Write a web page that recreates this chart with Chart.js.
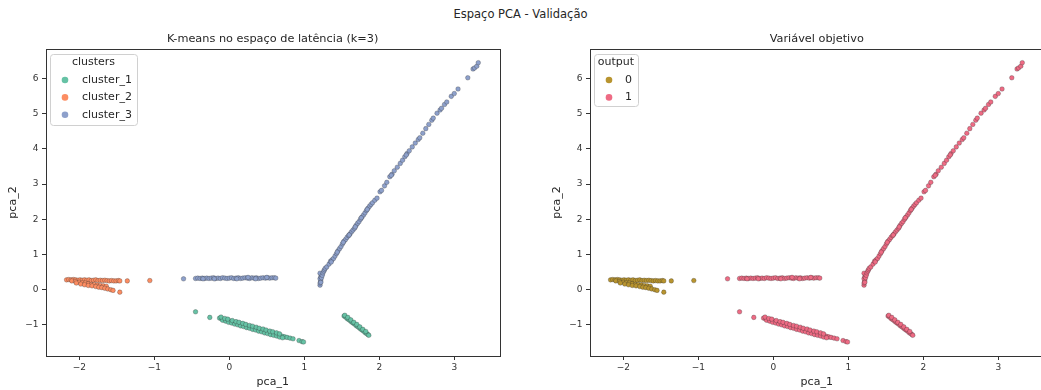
<!DOCTYPE html>
<html>
<head>
<meta charset="utf-8">
<script src="https://cdn.jsdelivr.net/npm/chart.js@4"></script>
<style>
  html, body { margin: 0; padding: 0; background: #fff; }
  body { width: 1041px; height: 390px; overflow: hidden; position: relative; font-family: 'DejaVu Sans', sans-serif; }
  #suptitle { position: absolute; top: 7px; left: 0; width: 1041px; text-align: center; font-size: 11.5px; color: #262626; }
  .wrap { position: absolute; top: 0; width: 520px; height: 390px; }
</style>
</head>
<body>
<div id="suptitle">Espaço PCA - Validação</div>
<div class="wrap" style="left:0"><canvas id="leftChart" width="520" height="390"></canvas></div>
<div class="wrap" style="left:544px"><canvas id="rightChart" width="520" height="390"></canvas></div>
<script>
// ticks
const xTicks = [-2, -1, 0, 1, 2, 3];
const yTicks = [-1, 0, 1, 2, 3, 4, 5, 6];

// cluster_1: long band below the flat line, plus the short steep segment
const cluster1Band = [
  [-0.45,-0.64],[-0.26,-0.80],
  [-0.13,-0.82],[-0.10,-0.84],[-0.07,-0.86],[-0.04,-0.875],[-0.01,-0.89],[0.02,-0.91],[0.05,-0.93],[0.08,-0.95],
  [0.11,-0.97],[0.14,-0.985],[0.17,-1.00],[0.20,-1.02],[0.23,-1.04],[0.26,-1.06],[0.29,-1.08],[0.32,-1.10],
  [0.35,-1.115],[0.38,-1.13],[0.41,-1.15],[0.44,-1.17],[0.47,-1.19],[0.50,-1.21],[0.53,-1.225],[0.56,-1.245],
  [0.59,-1.26],[0.62,-1.28],[0.65,-1.30],[0.68,-1.32],[0.71,-1.34],[0.74,-1.355],[0.77,-1.37],
  [-0.09,-0.88],[-0.05,-0.905],[-0.01,-0.94],[0.03,-0.96],[0.07,-0.99],[0.11,-1.01],[0.15,-1.04],[0.19,-1.06],
  [0.23,-1.09],[0.27,-1.11],[0.31,-1.14],[0.35,-1.16],[0.39,-1.19],[0.43,-1.21],[0.47,-1.24],[0.51,-1.26],
  [0.55,-1.29],[0.59,-1.31],[0.63,-1.33],[0.67,-1.36],[0.71,-1.38],
  [-0.11,-0.79],[-0.06,-0.83],[-0.02,-0.85],[0.04,-0.89],[0.09,-0.92],[0.13,-0.94],[0.18,-0.97],[0.22,-1.00],
  [0.27,-1.03],[0.31,-1.05],[0.36,-1.08],[0.40,-1.11],[0.45,-1.13],[0.49,-1.16],[0.54,-1.19],[0.58,-1.21],
  [0.63,-1.24],[0.67,-1.27],
  [0.81,-1.39],[0.85,-1.41],[0.93,-1.46],[0.97,-1.49],[0.99,-1.50]
];
const cluster1Steep = [
  [1.53,-0.76],[1.55,-0.79],[1.57,-0.83],[1.59,-0.86],[1.61,-0.89],[1.63,-0.93],[1.65,-0.96],[1.67,-0.99],
  [1.69,-1.03],[1.71,-1.06],[1.73,-1.09],[1.75,-1.13],[1.77,-1.16],[1.79,-1.19],[1.81,-1.23],[1.83,-1.26],
  [1.85,-1.29],[1.86,-1.31],
  [1.54,-0.74],[1.58,-0.80],[1.62,-0.87],[1.66,-0.94],[1.70,-1.00],[1.74,-1.07],[1.78,-1.14],[1.82,-1.20]
];

// cluster_2: the left group (output 0)
const cluster2Pts = [
  [-2.17,0.27],[-2.14,0.28],[-2.11,0.27],[-2.08,0.28],[-2.05,0.27],[-2.02,0.26],[-1.99,0.27],[-1.96,0.26],
  [-1.93,0.27],[-1.90,0.26],[-1.87,0.27],[-1.84,0.25],[-1.81,0.26],[-1.78,0.27],[-1.75,0.25],[-1.72,0.26],
  [-1.69,0.25],[-1.66,0.26],[-1.63,0.25],[-1.60,0.24],[-1.57,0.25],[-1.54,0.24],[-1.51,0.24],[-1.48,0.25],
  [-1.46,0.24],[-1.36,0.24],[-1.06,0.25],
  [-2.10,0.24],[-2.05,0.22],[-2.00,0.20],[-1.96,0.19],[-1.92,0.18],[-1.88,0.16],[-1.84,0.14],[-1.80,0.14],
  [-1.76,0.12],[-1.72,0.11],[-1.68,0.10],[-1.64,0.09],
  [-2.04,0.18],[-1.98,0.15],[-1.93,0.13],[-1.88,0.11],[-1.83,0.10],[-1.78,0.08],[-1.74,0.06],[-1.70,0.05],
  [-1.66,0.03],[-1.62,0.01],[-1.58,-0.01],[-1.55,-0.03],[-1.46,-0.08]
];

// cluster_3: flat line near y=0.3 and the long diagonal
const cluster3Flat = [
  [-0.61,0.30],[-0.45,0.31],[-0.42,0.32],[-0.39,0.31],[-0.36,0.32],[-0.33,0.31],[-0.30,0.32],[-0.27,0.31],
  [-0.24,0.32],[-0.21,0.33],[-0.18,0.31],[-0.15,0.32],[-0.12,0.31],[-0.09,0.33],[-0.06,0.32],[-0.03,0.31],
  [0.00,0.32],[0.03,0.33],[0.06,0.31],[0.09,0.32],[0.12,0.33],[0.15,0.31],[0.18,0.32],[0.21,0.33],
  [0.24,0.32],[0.27,0.31],[0.30,0.33],[0.33,0.32],[0.36,0.33],[0.39,0.31],[0.42,0.32],[0.45,0.33],
  [0.48,0.32],[0.51,0.33],[0.54,0.32],[0.57,0.33],[0.60,0.33],[0.62,0.32],
  [-0.20,0.30],[0.10,0.30],[0.35,0.30],[0.50,0.34],[-0.35,0.30],[0.25,0.34]
];
const cluster3Diag = [
  [1.21,0.12],[1.21,0.18],[1.22,0.24],[1.21,0.30],[1.22,0.36],[1.23,0.42],[1.21,0.46],[1.22,0.20],[1.23,0.33],
  [1.24,0.40],[1.25,0.47],[1.26,0.52],[1.27,0.56],[1.28,0.60],[1.30,0.64],[1.33,0.72],[1.35,0.80],[1.37,0.84],
  [1.39,0.88],[1.41,0.95],[1.43,1.02],[1.45,1.10],[1.47,1.16],[1.49,1.22],[1.51,1.30],[1.53,1.37],[1.55,1.42],
  [1.57,1.48],[1.59,1.53],[1.61,1.58],[1.63,1.64],[1.65,1.69],[1.67,1.74],[1.69,1.82],[1.71,1.88],[1.73,1.93],
  [1.75,2.00],[1.77,2.06],[1.79,2.12],[1.81,2.18],[1.83,2.25],[1.85,2.31],[1.87,2.37],[1.89,2.42],[1.91,2.47],
  [1.94,2.54],[1.97,2.60],[2.01,2.78],[2.03,2.82],[2.07,2.95],[2.10,3.05],[2.14,3.21],[2.17,3.28],[2.20,3.38],
  [2.24,3.48],[2.28,3.59],[2.31,3.68],[2.34,3.78],[2.37,3.87],[2.40,3.95],[2.44,4.06],[2.48,4.17],[2.52,4.27],
  [2.54,4.32],[2.58,4.45],[2.62,4.58],[2.66,4.70],[2.70,4.82],[2.72,4.88],[2.77,5.02],[2.81,5.11],[2.83,5.16],
  [2.87,5.27],[2.90,5.34],[2.96,5.50],[3.00,5.58],[3.05,5.71],[3.18,6.03],[3.25,6.28],[3.27,6.31],[3.30,6.36],
  [3.32,6.46],
  [1.36,0.78],[1.44,1.06],[1.52,1.34],[1.60,1.55],[1.68,1.78],[1.76,2.04],[1.84,2.28],[2.16,3.25],[2.36,3.83]
];

const toXY = arr => arr.map(p => ({ x: p[0], y: p[1] }));

const FONT = "'DejaVu Sans', sans-serif";
const minus = v => String(v).replace('-', '\u2212');

function frameAndTitle(title, legendTitle, legendItems, boxW, boxH) {
  return {
    id: 'frameAndTitle',
    afterDraw(chart) {
      const { ctx, chartArea: a } = chart;
      const L = Math.round(a.left) + 0.5, R = Math.round(a.right) + 0.5;
      const T = Math.round(a.top) + 0.5, B = Math.round(a.bottom) + 0.5;
      ctx.save();
      // spines
      ctx.strokeStyle = '#333';
      ctx.lineWidth = 1;
      ctx.strokeRect(L, T, R - L, B - T);
      // subplot title
      ctx.fillStyle = '#262626';
      ctx.font = '11.3px ' + FONT;
      ctx.textAlign = 'center';
      ctx.textBaseline = 'middle';
      ctx.fillText(title, (a.left + a.right) / 2, 39);
      // legend
      const bx = a.left + 4, by = a.top + 5;
      ctx.fillStyle = 'rgba(255,255,255,0.85)';
      ctx.strokeStyle = '#d0d0d0';
      ctx.beginPath();
      ctx.roundRect(bx + 0.5, by + 0.5, boxW, boxH, 3);
      ctx.fill();
      ctx.stroke();
      ctx.fillStyle = '#262626';
      ctx.font = '11px ' + FONT;
      ctx.fillText(legendTitle, bx + boxW / 2, by + 8);
      ctx.textAlign = 'left';
      legendItems.forEach((it, i) => {
        const y = by + 26 + i * 17.4;
        ctx.fillStyle = it.color;
        ctx.beginPath();
        ctx.arc(bx + 15, y, 3.3, 0, Math.PI * 2);
        ctx.fill();
        ctx.fillStyle = '#262626';
        ctx.fillText(it.label, bx + it.textX, y);
      });
      ctx.restore();
    }
  };
}

function makeOptions() {
  return {
    responsive: false,
    animation: false,
    layout: { padding: { top: 49, right: 20.5, left: 0, bottom: 0 } },
    plugins: { legend: { display: false }, tooltip: { enabled: false } },
    scales: {
      x: {
        type: 'linear', min: -2.444, max: 3.603,
        afterBuildTicks: s => { s.ticks = xTicks.map(v => ({ value: v })); },
        afterFit: s => { s.height = 34; },
        border: { display: false },
        grid: { drawOnChartArea: false, drawTicks: true, tickLength: 4, color: '#333' },
        ticks: { color: '#333', font: { family: FONT, size: 9 }, padding: 2, callback: v => minus(v) },
        title: { display: true, text: 'pca_1', color: '#262626', font: { family: FONT, size: 11 }, padding: { top: 0, bottom: 1.5 } }
      },
      y: {
        type: 'linear', min: -1.90, max: 6.85,
        afterBuildTicks: s => { s.ticks = yTicks.map(v => ({ value: v })); },
        afterFit: s => { s.width = 46; },
        border: { display: false },
        grid: { drawOnChartArea: false, drawTicks: true, tickLength: 4, color: '#333' },
        ticks: { color: '#333', font: { family: FONT, size: 9 }, padding: 3.5, callback: v => minus(v) },
        title: { display: true, text: 'pca_2', color: '#262626', font: { family: FONT, size: 11 }, padding: { top: 7, bottom: 0 } }
      }
    }
  };
}

const pointStyle = {
  pointRadius: 2.3,
  borderWidth: 0.5,
  borderColor: 'rgba(40,40,40,0.55)'
};

const C1 = '#66c2a5', C2 = '#fc8d62', C3 = '#8da0cb';
const OUT0 = '#b8942f', OUT1 = '#ee6b84';

new Chart(document.getElementById('leftChart'), {
  type: 'scatter',
  data: {
    datasets: [
      { label: 'cluster_3', data: toXY(cluster3Diag.concat(cluster3Flat)), backgroundColor: C3, ...pointStyle },
      { label: 'cluster_2', data: toXY(cluster2Pts), backgroundColor: C2, ...pointStyle },
      { label: 'cluster_1', data: toXY(cluster1Band.concat(cluster1Steep)), backgroundColor: C1, ...pointStyle }
    ]
  },
  options: makeOptions(),
  plugins: [frameAndTitle('K-means no espaço de latência (k=3)', 'clusters',
    [{ label: 'cluster_1', color: C1, textX: 32 }, { label: 'cluster_2', color: C2, textX: 32 }, { label: 'cluster_3', color: C3, textX: 32 }],
    87, 71)]
});

new Chart(document.getElementById('rightChart'), {
  type: 'scatter',
  data: {
    datasets: [
      { label: '1', data: toXY(cluster3Diag.concat(cluster3Flat, cluster1Band, cluster1Steep)), backgroundColor: OUT1, ...pointStyle },
      { label: '0', data: toXY(cluster2Pts), backgroundColor: OUT0, ...pointStyle }
    ]
  },
  options: makeOptions(),
  plugins: [frameAndTitle('Variável objetivo', 'output',
    [{ label: '0', color: OUT0, textX: 31 }, { label: '1', color: OUT1, textX: 31 }],
    44, 52)]
});
</script>
</body>
</html>
